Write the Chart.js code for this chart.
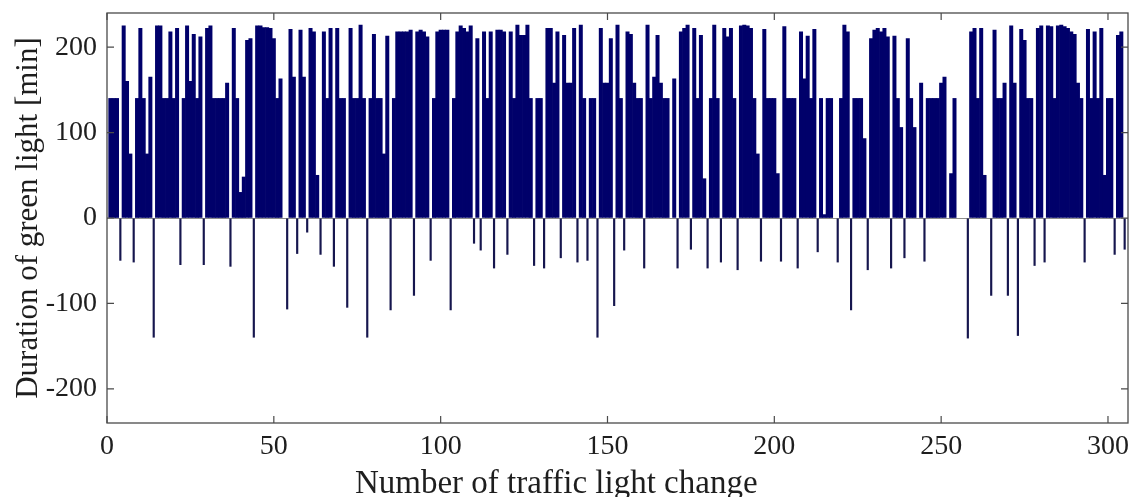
<!DOCTYPE html>
<html>
<head>
<meta charset="utf-8">
<script src="https://cdn.jsdelivr.net/npm/chart.js@4.4.1/dist/chart.umd.min.js"></script>
<style>
html,body{margin:0;padding:0;background:#fff;overflow:hidden;}
#wrap{width:1131px;height:497px;position:relative;}
</style>
</head>
<body>
<div id="wrap"><canvas id="c" width="1131" height="497"></canvas></div>
<script>
// Duration of green light [min] for each traffic light change (1..305)
const durations = [
  140,140,140,-50,225,160,75,-52,140,222,
  140,75,165,-140,225,225,140,140,218,140,
  222,-55,140,225,160,215,140,212,-55,222,
  225,140,140,140,140,158,-57,222,140,30,
  48,208,210,-140,225,225,223,223,222,210,
  140,163,0,-107,221,165,-42,220,165,-17,
  222,218,50,-43,218,140,222,-57,222,140,
  140,-105,222,140,140,226,140,-140,140,215,
  140,140,75,213,-108,140,218,218,218,218,
  220,-91,218,220,218,212,-50,140,218,220,
  220,220,-108,140,218,225,222,218,225,-30,
  210,-38,218,140,218,-59,220,220,218,-43,
  218,140,226,214,214,226,140,-56,140,140,
  -59,222,222,158,218,-47,214,158,158,222,
  -52,226,140,-50,140,140,-140,222,158,158,
  210,-103,226,140,-38,218,215,158,140,140,
  -59,226,140,165,214,158,140,140,0,163,
  -59,218,222,226,-37,222,140,214,46,-59,
  140,226,140,-52,222,212,222,140,-61,225,
  226,225,222,140,75,-51,221,140,140,140,
  52,-51,224,140,140,140,-59,218,163,213,
  140,221,-40,140,4,140,140,0,-52,140,
  226,218,-108,140,140,140,93,-61,210,220,
  222,218,222,212,-59,213,140,106,-47,210,
  140,106,0,158,-51,140,140,140,140,158,
  165,0,52,140,0,0,0,-141,218,222,
  140,222,50,0,-91,220,140,140,158,-91,
  225,158,-138,221,208,140,140,-56,222,225,
  -52,225,224,140,225,226,224,222,218,215,
  158,140,-52,221,140,218,140,222,50,140,
  140,-43,214,218,-37
];
const xTickValues = [0, 50, 100, 150, 200, 250, 300];
const yTickValues = [-200, -100, 0, 100, 200];
const xTitle = 'Number of traffic light change';
const yTitle = 'Duration of green light [min]';

const posData = durations.map((v, i) => ({x: i + 1, y: v > 0 ? v : null}));
const negData = durations.map((v, i) => ({x: i + 1, y: v < 0 ? v : null}));

const FONT = '"Liberation Serif", "Times New Roman", serif';
const TEXT = '#1e1e1e';

const frameTicks = {
  id: 'frameTicks',
  afterDraw(chart) {
    const {ctx, chartArea: a, scales} = chart;
    ctx.save();
    ctx.strokeStyle = '#4a4a4a';
    ctx.lineWidth = 1.3;
    ctx.strokeRect(a.left, a.top, a.right - a.left, a.bottom - a.top);
    const L = 7;
    ctx.lineWidth = 1.2;
    ctx.beginPath();
    xTickValues.forEach(v => {
      const px = scales.x.getPixelForValue(v);
      ctx.moveTo(px, a.bottom); ctx.lineTo(px, a.bottom - L);
      ctx.moveTo(px, a.top); ctx.lineTo(px, a.top + L);
    });
    yTickValues.forEach(v => {
      const py = scales.y.getPixelForValue(v);
      ctx.moveTo(a.left, py); ctx.lineTo(a.left + L, py);
      ctx.moveTo(a.right, py); ctx.lineTo(a.right - L, py);
    });
    ctx.stroke();
    // x axis title (centred as in the source figure, left of the plot centre)
    ctx.fillStyle = TEXT;
    ctx.font = '33px ' + FONT;
    ctx.textAlign = 'center';
    ctx.textBaseline = 'alphabetic';
    ctx.fillText(xTitle, a.left + (a.right - a.left) * 0.44, a.bottom + 70);
    ctx.restore();
  }
};

new Chart(document.getElementById('c'), {
  type: 'bar',
  data: {
    datasets: [
      {data: posData, backgroundColor: '#00006a', borderWidth: 0, barPercentage: 1, categoryPercentage: 1},
      {data: negData, backgroundColor: '#16164e', borderWidth: 0, barPercentage: 0.65, categoryPercentage: 1}
    ]
  },
  options: {
    responsive: false,
    animation: false,
    events: [],
    layout: {padding: {top: 13, right: 3, left: 0, bottom: 0}},
    plugins: {legend: {display: false}, tooltip: {enabled: false}},
    datasets: {bar: {grouped: false}},
    scales: {
      x: {
        type: 'linear',
        offset: false,
        min: 0, max: 306,
        afterBuildTicks: s => { s.ticks = xTickValues.map(v => ({value: v})); },
        afterFit: s => { s.height = 74; s.paddingLeft = 0; s.paddingRight = 0; },
        grid: {display: false, drawTicks: false, offset: false},
        border: {display: false},
        ticks: {padding: 7, color: TEXT, font: {family: FONT, size: 28}, maxRotation: 0, autoSkip: false},
        title: {display: false}
      },
      y: {
        min: -240, max: 240,
        afterBuildTicks: s => { s.ticks = yTickValues.map(v => ({value: v})); },
        afterFit: s => { s.width = 107; s.paddingTop = 0; s.paddingBottom = 0; },
        grid: {drawTicks: false, color: c => (c.tick && c.tick.value === 0) ? '#8c8c8c' : 'rgba(0,0,0,0)', lineWidth: 1},
        border: {display: false},
        ticks: {padding: 10, color: TEXT, font: {family: FONT, size: 28}, autoSkip: false},
        title: {display: true, text: yTitle, color: TEXT, font: {family: FONT, size: 31, lineHeight: 1}, padding: {top: 13, bottom: 0}}
      }
    }
  },
  plugins: [frameTicks]
});
</script>
</body>
</html>
